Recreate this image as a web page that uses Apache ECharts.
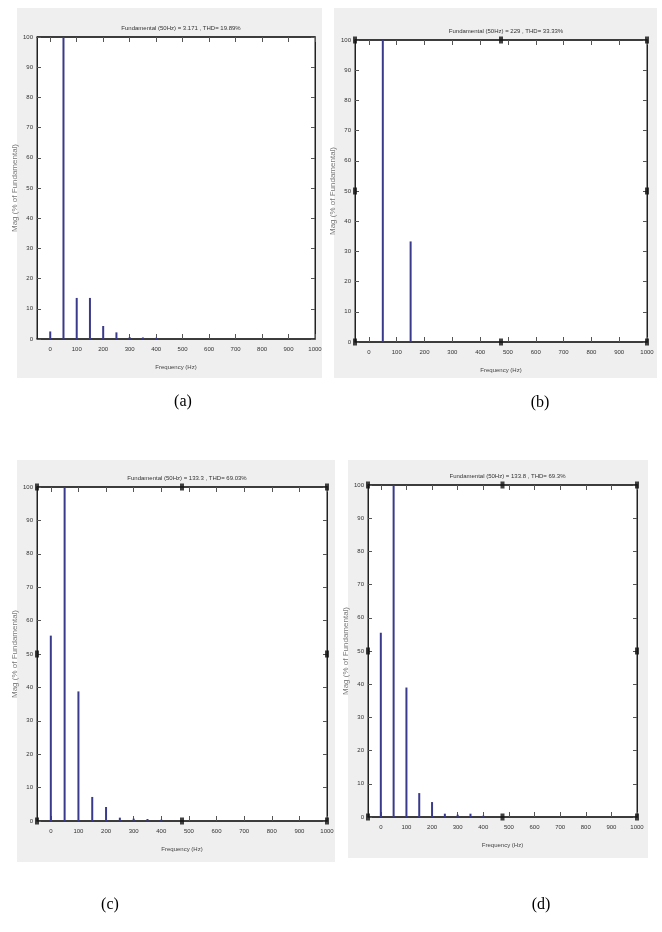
<!DOCTYPE html>
<html>
<head>
<meta charset="utf-8">
<script src="https://cdn.jsdelivr.net/npm/echarts@6/dist/echarts.min.js"></script>
<style>
  html, body { margin: 0; padding: 0; background: #fff; }
  #chart { width: 662px; height: 932px; }
</style>
</head>
<body>
<div id="chart"></div>
<script>
// harmonic spectra, magnitude in % of the 50 Hz fundamental
var freqA = [0, 50, 100, 150, 200, 250, 300, 350, 400]
var magA = [2.5, 100, 13.6, 13.6, 4.3, 2.2, 0.6, 0.5, 0.4]

var freqB = [50, 150]
var magB = [100, 33.3]

var freqC = [0, 50, 100, 150, 200, 250, 300, 350, 400]
var magC = [55.5, 100, 38.8, 7.2, 4.2, 1.0, 0.7, 0.6, 0.4]

var freqD = [0, 50, 100, 150, 200, 250, 300, 350, 400]
var magD = [55.5, 100, 39.0, 7.2, 4.5, 1.0, 0.7, 1.0, 0.4]

var titles = [
  'Fundamental (50Hz) = 3.171 , THD= 19.89%',
  'Fundamental (50Hz) = 229 , THD= 33.33%',
  'Fundamental (50Hz) = 133.3 , THD= 69.03%',
  'Fundamental (50Hz) = 133.8 , THD= 69.3%'
]
var captions = ['(a)', '(b)', '(c)', '(d)']

var xTicks = [0, 100, 200, 300, 400, 500, 600, 700, 800, 900, 1000]
var xMin = -50
var xMax = 1000

// panel geometry: gray frame + plot box
var panels = [
  { frame: [17, 8, 305, 370], plot: [37, 37, 278, 302], cap: [183, 402], freq: freqA, mag: magA, handles: false },
  { frame: [334, 8, 323, 370], plot: [355, 40, 292, 302], cap: [540, 403], freq: freqB, mag: magB, handles: true },
  { frame: [17, 460, 318, 402], plot: [37, 487, 290, 334], cap: [110, 905], freq: freqC, mag: magC, handles: true },
  { frame: [348, 460, 300, 398], plot: [368, 485, 269, 332], cap: [541, 905], freq: freqD, mag: magD, handles: true }
]

var chart = echarts.init(document.getElementById('chart'))

var option = {
  backgroundColor: '#fff',
  animation: false,
  title: [],
  grid: [],
  xAxis: [],
  yAxis: [],
  series: [],
  graphic: []
}

var tickFont = { fontFamily: 'Liberation Sans', fontSize: 6, color: '#333' }
var plain = function(v) { return String(v) }

panels.forEach(function(p, i) {
  var f = p.frame
  var g = p.plot
  option.graphic.push({
    type: 'rect', z: -10,
    shape: { x: f[0], y: f[1], width: f[2], height: f[3] },
    style: { fill: '#efefef' }
  })
  option.graphic.push({
    type: 'text', z: 10,
    x: p.cap[0], y: p.cap[1],
    style: { text: captions[i], fill: '#000', font: '16px "Liberation Serif"', align: 'center', verticalAlign: 'middle' }
  })
  option.title.push({
    text: titles[i],
    left: g[0] + g[2] / 2,
    top: g[1] - 17,
    textAlign: 'center',
    textStyle: { fontFamily: 'Liberation Sans', fontSize: 6, fontWeight: 'normal', color: '#333' }
  })
  option.grid.push({
    left: g[0], top: g[1], width: g[2], height: g[3],
    show: true, backgroundColor: '#fff', borderColor: '#222', borderWidth: 1
  })
  var bx = i * 2
  // bottom x axis
  option.xAxis.push({
    type: 'value', gridIndex: i, position: 'bottom',
    min: xMin, max: xMax,
    name: 'Frequency (Hz)', nameLocation: 'middle', nameGap: 25,
    nameTextStyle: { fontFamily: 'Liberation Sans', fontSize: 6, color: '#444' },
    axisLine: { show: true, onZero: false, lineStyle: { color: '#222', width: 1.5 } },
    axisTick: { show: true, inside: true, length: 5, customValues: xTicks, lineStyle: { color: '#555' } },
    axisLabel: Object.assign({ customValues: xTicks, margin: 7, formatter: plain }, tickFont),
    splitLine: { show: false }
  })
  // top x axis (box ticks only)
  option.xAxis.push({
    type: 'value', gridIndex: i, position: 'top',
    min: xMin, max: xMax,
    axisLine: { show: true, onZero: false, lineStyle: { color: '#222', width: 1.5 } },
    axisTick: { show: true, inside: true, length: 5, customValues: xTicks, lineStyle: { color: '#555' } },
    axisLabel: { show: false },
    splitLine: { show: false }
  })
  option.yAxis.push({
    type: 'value', gridIndex: i, position: 'left',
    min: 0, max: 100, interval: 10,
    name: 'Mag (% of Fundamental)', nameLocation: 'middle', nameGap: 15,
    nameTextStyle: { fontFamily: 'Liberation Sans', fontSize: 8, color: '#777' },
    axisLine: { show: true, onZero: false, lineStyle: { color: '#222', width: 1 } },
    axisTick: { show: true, inside: true, length: 4, lineStyle: { color: '#555' } },
    axisLabel: Object.assign({ margin: 4, formatter: plain }, tickFont),
    splitLine: { show: false }
  })
  option.yAxis.push({
    type: 'value', gridIndex: i, position: 'right',
    min: 0, max: 100, interval: 10,
    axisLine: { show: true, onZero: false, lineStyle: { color: '#222', width: 1 } },
    axisTick: { show: true, inside: true, length: 4, lineStyle: { color: '#555' } },
    axisLabel: { show: false },
    splitLine: { show: false }
  })
  option.series.push({
    type: 'bar',
    xAxisIndex: bx, yAxisIndex: bx,
    barWidth: 2,
    itemStyle: { color: '#3a3a8c' },
    data: p.freq.map(function(fq, k) { return [fq, p.mag[k]] })
  })
  if (p.handles) {
    var mid = (xMin + xMax) / 2
    option.series.push({
      type: 'scatter',
      xAxisIndex: bx, yAxisIndex: bx,
      symbol: 'rect', symbolSize: [4, 7],
      clip: false, z: 5,
      itemStyle: { color: '#111' },
      data: [[xMin, 0], [mid, 0], [xMax, 0], [xMin, 50], [xMax, 50], [xMin, 100], [mid, 100], [xMax, 100]]
    })
  }
})

chart.setOption(option)
</script>
</body>
</html>
